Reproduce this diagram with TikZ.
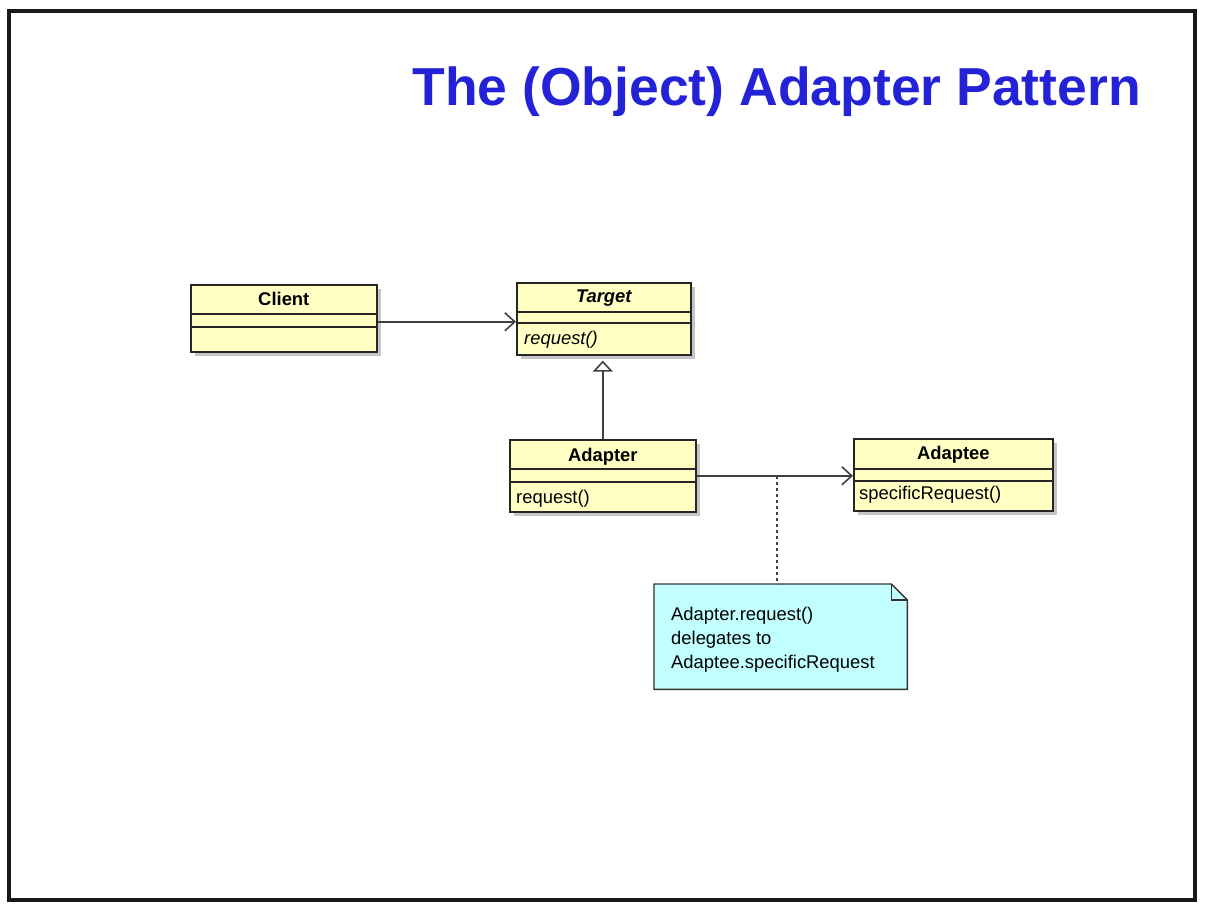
\documentclass[tikz,border=0pt]{standalone}
\usepackage{fontspec}
\setmainfont{Liberation Sans}
\usetikzlibrary{arrows.meta,calc,shadows}
\definecolor{classyellow}{RGB}{255,255,196}
\definecolor{notecyan}{RGB}{194,255,255}
\definecolor{titleblue}{RGB}{36,34,214}
\definecolor{linegray}{RGB}{64,64,64}
\begin{document}
\begin{tikzpicture}[x=1pt,y=-1pt,
    class node/.style={rectangle,draw=black!85,line width=1.6pt,fill=classyellow,anchor=north west,inner sep=0pt,
        drop shadow={shadow xshift=4pt,shadow yshift=-4pt,fill=black!45}},
    name text/.style={font=\fontsize{18.4}{22}\selectfont\bfseries,anchor=base,inner sep=0pt},
    op text/.style={font=\fontsize{18.4}{22}\selectfont,anchor=base west,inner sep=0pt},
    sep line/.style={draw=black!85,line width=1.4pt},
    assoc/.style={draw=linegray,line width=1.6pt,-{Straight Barb[length=10pt,width=18pt]}},
    generalize/.style={draw=linegray,line width=1.6pt,-{Triangle[open,length=11pt,width=20pt,fill=white]},shorten >=5pt},
    note line/.style={draw=black!80,line width=1.4pt}]
        \useasboundingbox (0,0) rectangle (1206,912);
        \draw[line width=4pt,draw=black!90] (9,11) rectangle (1195,900);
        \node[font=\fontsize{53.5}{60}\selectfont\bfseries,text=titleblue,anchor=base east,inner sep=0pt] (title) at (1141,106) {The (Object) Adapter Pattern};

        % classes
        \node[class node,minimum width=186pt,minimum height=67pt] (client) at (190,284) {};
        \node[class node,minimum width=174pt,minimum height=72pt] (target) at (516,282) {};
        \node[class node,minimum width=186pt,minimum height=72pt] (adapter) at (509,439) {};
        \node[class node,minimum width=199pt,minimum height=72pt] (adaptee) at (853,438) {};

        \draw[sep line] ($(client.north west)+(0,30)$) -- ($(client.north east)+(0,30)$);
        \draw[sep line] ($(client.north west)+(0,43)$) -- ($(client.north east)+(0,43)$);
        \draw[sep line] ($(target.north west)+(0,30)$) -- ($(target.north east)+(0,30)$);
        \draw[sep line] ($(target.north west)+(0,41)$) -- ($(target.north east)+(0,41)$);
        \draw[sep line] ($(adapter.north west)+(0,30)$) -- ($(adapter.north east)+(0,30)$);
        \draw[sep line] ($(adapter.north west)+(0,43)$) -- ($(adapter.north east)+(0,43)$);
        \draw[sep line] ($(adaptee.north west)+(0,31)$) -- ($(adaptee.north east)+(0,31)$);
        \draw[sep line] ($(adaptee.north west)+(0,43)$) -- ($(adaptee.north east)+(0,43)$);

        \node[name text] (clientname) at ($(client.north)+(0,21)$) {Client};
        \node[name text,font=\fontsize{18.4}{22}\selectfont\bfseries\itshape] (targetname) at ($(target.north)+(0,20)$) {Target};
        \node[name text] (adaptername) at ($(adapter.north)+(0,22)$) {Adapter};
        \node[name text] (adapteename) at ($(adaptee.north)+(0,21)$) {Adaptee};

        \node[op text,font=\fontsize{18.4}{22}\selectfont\itshape] (targetop) at ($(target.north west)+(8,62)$) {request()};
        \node[op text] (adapterop) at ($(adapter.north west)+(7,64)$) {request()};
        \node[op text] (adapteeop) at ($(adaptee.north west)+(6,61)$) {specificRequest()};

        % note
        \node[rectangle,fill=notecyan,anchor=north west,inner sep=0pt,minimum width=253pt,minimum height=105pt] (note) at (654,584) {};
        \fill[white] ($(note.north east)+(-16,0)$) -- ($(note.north east)+(0.8,-0.8)$) -- ($(note.north east)+(0,16)$) -- cycle;
        \draw[note line] (note.north west) -- ($(note.north east)+(-16,0)$) -- ($(note.north east)+(0,16)$)
            -- (note.south east) -- (note.south west) -- cycle;
        \draw[note line] ($(note.north east)+(-16,0)$) -- ($(note.north east)+(-16,16)$) -- ($(note.north east)+(0,16)$);
        \node[font=\fontsize{18.4}{24}\selectfont,align=left,anchor=north west,inner sep=0pt] (notetext)
            at ($(note.north west)+(17,22.6)$) {Adapter.request()\\delegates to\\Adaptee.specificRequest};

        % connectors
        \coordinate (delegate) at (777,476);
        \draw[assoc] ($(client.east)+(0,3.5)$) -- ($(target.west)+(0,3)$);
        \draw[generalize] (adapter.north) -- (adapter.north |- target.south);
        \draw[assoc] (adapter.east) -- (adaptee.west |- adapter.east);
        \draw[draw=linegray,line width=1.6pt,dash pattern=on 3pt off 3pt] (delegate) -- (delegate |- note.north);
\end{tikzpicture}
\end{document}
